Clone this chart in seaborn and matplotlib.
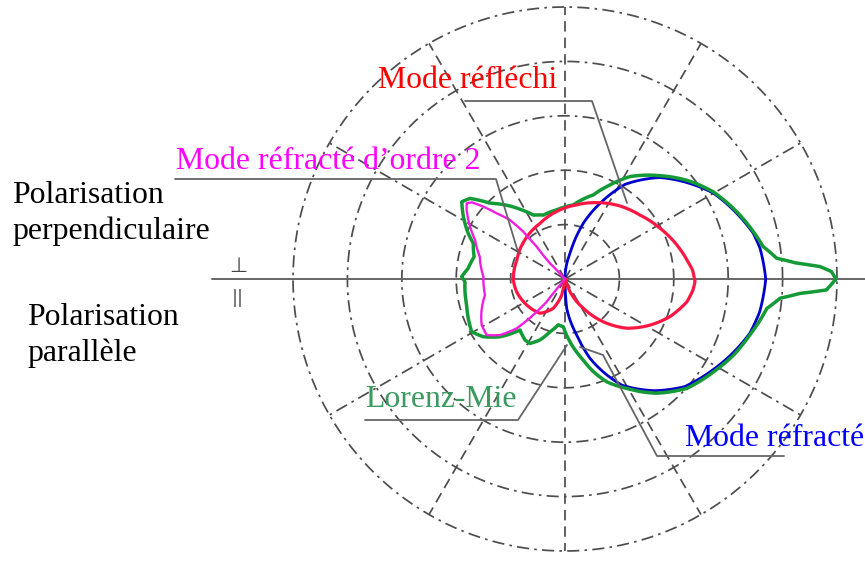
import numpy as np
import pandas as pd
import seaborn as sns
import matplotlib.pyplot as plt

# angles in degrees, radii in circle units (outer circle = 5)
green_theta = [0, 1.6, 2.8, 3.9, 5.6, 9.3, 14.1, 21.4, 30.5, 39.1, 47.4, 57.6, 64.4, 71.4,
               83.6, 96.9, 108.7, 116.3, 122.1, 127.0, 134.7, 139.7, 143.2, 148.5, 154.7,
               158.7, 166.2, 173.7, 178.7, 181.5, 194.8, 209.5, 215.2, 221.6, 228.6, 236.7,
               241.4, 247.7, 254.1, 261.7, 268.0, 274.6, 281.9, 287.0, 292.1, 299.4, 308.7,
               318.1, 328.0, 335.7, 343.2, 351.7, 354.9, 356.5, 357.6, 360]
green_r = [4.98, 4.90, 4.69, 4.27, 3.91, 3.69, 3.57, 3.39, 3.16, 2.88, 2.58, 2.23, 1.92, 1.63,
           1.37, 1.28, 1.24, 1.31, 1.50, 1.68, 1.96, 2.29, 2.37, 2.19, 1.97,
           1.81, 1.72, 1.79, 1.90, 1.84, 1.87, 1.97, 1.84, 1.60, 1.25, 1.34,
           1.35, 1.21, 1.01, 0.85, 0.88, 1.16, 1.49, 1.78, 2.04, 2.31, 2.69,
           3.01, 3.22, 3.40, 3.55, 3.75, 3.97, 4.33, 4.81, 4.98]

blue_theta = [-90, -86.7, -78.2, -72.5, -66.5, -61.9, -51.3, -41.9, -32.0, -24.3, -16.4, -9.5,
              0, 8.9, 13.7, 30.1, 47.0, 57.6, 65.2, 71.8, 79.0, 90]
blue_r = [0, 0.54, 1.05, 1.53, 1.92, 2.21, 2.63, 2.96, 3.18, 3.36, 3.54, 3.63,
          3.69, 3.63, 3.56, 3.15, 2.55, 2.06, 1.53, 1.08, 0.48, 0]

red_theta = [-72, -68.5, -58.0, -48.1, -38.6, -28.4, -19.7, -10.6, -5.0, -1.2, 4.0, 8.1, 16.9,
             28.1, 40.5, 53.0, 67.4, 81.0, 97.0, 114.2, 135.7, 158.5, 181.1, 194.7, 214.2,
             233.9, 248.2, 258.3, 262]
red_r = [0, 0.25, 0.63, 1.06, 1.45, 1.78, 2.05, 2.28, 2.36, 2.39, 2.35, 2.28, 2.15,
         1.98, 1.81, 1.68, 1.52, 1.38, 1.25, 1.12, 1.03, 0.95, 0.95, 0.92, 0.85,
         0.78, 0.58, 0.30, 0]

magenta_theta = [132, 133.7, 131.2, 131.4, 133.0, 136.1, 138.5, 140.6, 142.4, 144.9, 151.2,
                 156.6, 165.3, 178.4, 191.3, 201.4, 208.9, 215.6, 220.7, 225.6, 228.6, 231.1, 230]
magenta_r = [0, 0.40, 0.79, 1.16, 1.48, 1.74, 2.01, 2.22, 2.28, 2.21, 1.99,
             1.80, 1.62, 1.50, 1.50, 1.65, 1.75, 1.77, 1.58, 1.27, 0.88, 0.54, 0]

ring_radii = [1, 2, 3, 4, 5]
spoke_angles = [30, 60, 90, 120, 150, 210, 240, 270, 300, 330]

sns.set_style('white')
plt.rcParams['font.family'] = ['Liberation Serif', 'DejaVu Sans']

fig = plt.figure(figsize=(8.65, 5.61), dpi=100)
ax = fig.add_axes([0.33873, 0.017825, 0.62890, 0.96970], projection='polar')

grid = '#4d4d4d'
dashdot = (0, (7, 3, 1.5, 3))
dashed = (0, (6, 3.5))
full = np.linspace(0, 2 * np.pi, 361)
for k in ring_radii:
    ls = dashed if k <= 2 else dashdot
    ax.plot(full, np.full_like(full, k), color=grid, lw=1.25, ls=ls, clip_on=False)
for a in spoke_angles:
    ls = dashdot if a % 60 == 30 and a % 90 != 0 else dashed
    ax.plot([np.deg2rad(a)] * 2, [0, 5], color=grid, lw=1.25, ls=ls, clip_on=False)
# solid horizontal axis, running past the rings
ax.plot([np.pi, np.pi], [0, 6.49], color='#666666', lw=1.4, clip_on=False)
ax.plot([0, 0], [0, 5.51], color='#666666', lw=1.4, clip_on=False)

curves = [
    (blue_theta, blue_r, '#0000cc', 2.0),
    (green_theta, green_r, '#149a36', 2.5),
    (red_theta, red_r, '#ff1744', 2.3),
    (magenta_theta, magenta_r, '#f01ee0', 1.7),
]
for th, r, color, lw in curves:
    df = pd.DataFrame({'theta': np.deg2rad(th), 'r': r})
    sns.lineplot(data=df, x='theta', y='r', sort=False, estimator=None,
                 color=color, lw=lw, ax=ax)
    # draw segments along the polar grid (curved) instead of straight chords
    line = ax.lines[-1]
    line.get_path()._interpolation_steps = 30
    line.set_solid_joinstyle('round')

ax.set_ylim(0, 5)
ax.grid(False)
ax.set_xticks([])
ax.set_yticks([])
ax.set_xlabel('')
ax.set_ylabel('')
ax.spines['polar'].set_visible(False)
ax.set_facecolor('none')

# labels and leader lines, in pixel coordinates
ov = fig.add_axes([0, 0, 1, 1], facecolor='none')
ov.set_xlim(0, 865)
ov.set_ylim(561, 0)
ov.axis('off')

leader = '#666666'
ov.plot([465, 592, 627], [101, 101, 203], color=leader, lw=1.3)
ov.plot([175, 496, 518], [179, 179, 252], color=leader, lw=1.3)
ov.plot([365, 518, 567], [420, 420, 345], color=leader, lw=1.3)
ov.plot([784, 657, 603, 580], [456, 456, 355, 347], color=leader, lw=1.3)

fs = 22.9
ov.text(378, 88, 'Mode réfléchi', color='#ff0000', fontsize=fs, va='baseline')
ov.text(176, 169, 'Mode réfracté d’ordre 2', color='#ff00ff', fontsize=fs, va='baseline')
ov.text(365, 407, 'Lorenz-Mie', color='#3a9a5f', fontsize=fs, va='baseline')
ov.text(685, 446, 'Mode réfracté', color='#0000ff', fontsize=fs, va='baseline')
ov.text(12, 203, 'Polarisation', color='black', fontsize=fs, va='baseline')
ov.text(12, 239, 'perpendiculaire', color='black', fontsize=fs, va='baseline')
ov.text(27, 325, 'Polarisation', color='black', fontsize=fs, va='baseline')
ov.text(27, 361, 'parallèle', color='black', fontsize=fs, va='baseline')
ov.text(238, 266, '⊥', color='#444444', fontsize=15, ha='center', va='center',
        family=['DejaVu Sans'])
ov.text(238, 298, '||', color='#555555', fontsize=13, ha='center', va='center',
        family=['DejaVu Sans'])

fig.savefig('out.png', dpi=100, facecolor='white')
